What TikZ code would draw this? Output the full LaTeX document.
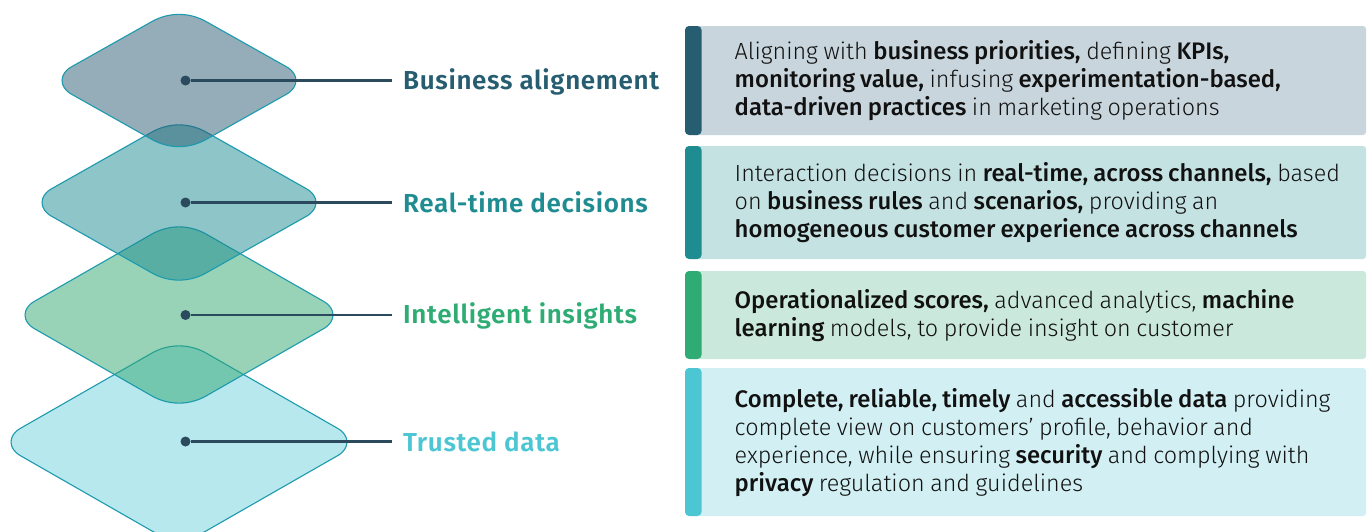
\documentclass[tikz,border=0pt]{standalone}
\usepackage{fontspec}
\setmainfont{Fira Sans}[UprightFont=* Light,BoldFont=* Medium,WordSpace=0.85,UprightFeatures={Scale=1.016},BoldFeatures={Scale=1.04}]
\newfontfamily\labelfont{Fira Sans}[UprightFont=* SemiBold,LetterSpace=2.5]
\definecolor{stk}{HTML}{1C9AAE}
\definecolor{cA}{HTML}{265D70}
\definecolor{cB}{HTML}{1F8C91}
\definecolor{cC}{HTML}{2FAC74}
\definecolor{cD}{HTML}{4CC6D3}
\definecolor{fA}{HTML}{2A5B73}
\definecolor{fB}{HTML}{1B8B91}
\definecolor{fC}{HTML}{31A771}
\definecolor{fD}{HTML}{4CC6D3}
\definecolor{bgA}{HTML}{C8D5DC}
\definecolor{bgB}{HTML}{C5E2E3}
\definecolor{bgC}{HTML}{CBE8DC}
\definecolor{bgD}{HTML}{D2F0F3}
\definecolor{lnk}{HTML}{2B4A5E}
\definecolor{txt}{HTML}{111111}
\newcommand{\lozenge}[5]{% cx cy W H style
  \path[#5] (#1-27,#2-#4+7)
    .. controls (#1-10,#2-#4-2.5) and (#1+10,#2-#4-2.5) .. (#1+27,#2-#4+7)
    -- (#1+#3-10,#2-14)
    .. controls (#1+#3+3.3,#2-7) and (#1+#3+3.3,#2+7) .. (#1+#3-10,#2+14)
    -- (#1+27,#2+#4-7)
    .. controls (#1+10,#2+#4+2.5) and (#1-10,#2+#4+2.5) .. (#1-27,#2+#4-7)
    -- (#1-#3+10,#2+14)
    .. controls (#1-#3-3.3,#2+7) and (#1-#3-3.3,#2-7) .. (#1-#3+10,#2-14)
    -- cycle;}
\tikzset{
  x=1pt,y=-1pt,
  lozA/.style={draw=stk,line width=1.1pt,fill=fA,fill opacity=.5},
  lozB/.style={draw=stk,line width=1.1pt,fill=fB,fill opacity=.5},
  lozC/.style={draw=stk,line width=1.1pt,fill=fC,fill opacity=.5},
  lozD/.style={draw=stk,line width=1.1pt,fill=fD,fill opacity=.4},
  dotn/.style={circle,fill=lnk,inner sep=0pt,minimum size=10pt},
  link/.style={draw=lnk,line width=2.8pt},
  lab/.style={anchor=base west,inner sep=0pt,font=\labelfont\fontsize{26}{28}\selectfont},
  desc/.style={anchor=west,inner sep=0pt,align=left,text=txt,font=\fontsize{23}{28}\selectfont},
  bg/.style={fill=#1,draw=none,rounded corners=3pt},
  bar/.style={fill=#1,draw=none,rounded corners=4pt},
}
\begin{document}
\begin{tikzpicture}
\useasboundingbox (0,0) rectangle (1370,531);
\begin{scope}
\clip (0,0) rectangle (1370,531);
\lozenge{179}{442}{168}{96}{lozD}
\lozenge{179}{315}{154}{88}{lozC}
\lozenge{179}{202.5}{137}{77.5}{lozB}
\lozenge{179}{80.5}{117}{66}{lozA}
\end{scope}
\node[dotn] (d1) at (185.5,80.5) {};
\node[dotn] (d2) at (185.5,202.5) {};
\node[dotn] (d3) at (185.5,315) {};
\node[dotn] (d4) at (185.5,441.5) {};
\coordinate (e1) at (392,80.5);
\coordinate (e2) at (392,202.5);
\coordinate (e3) at (392,315);
\coordinate (e4) at (392,441.5);
\draw[link] (d1) -- (e1);
\draw[link] (d2) -- (e2);
\draw[link] (d3) -- (e3);
\draw[link] (d4) -- (e4);
\node[lab,text=cA] (l1) at (403,89) {Business alignement};
\node[lab,text=cB] (l2) at (403,212.5) {Real-time decisions};
\node[lab,text=cC] (l3) at (403,323) {Intelligent insights};
\node[lab,text=cD] (l4) at (403,451) {Trusted data};
\path[bg=bgA] (690,26) rectangle (1366,135);
\path[bg=bgB] (690,146) rectangle (1366,259);
\path[bg=bgC] (690,271) rectangle (1366,359);
\path[bg=bgD] (690,368) rectangle (1366,516);
\path[bar=cA] (685,26) rectangle (701.5,135);
\path[bar=cB] (685,146) rectangle (701.5,259);
\path[bar=cC] (685,271) rectangle (701.5,359);
\path[bar=cD] (685,368) rectangle (701.5,516);
\node[desc] (t1) at (734.5,80.8) {Aligning with \textbf{business priorities,} defining \textbf{KPIs,}\\\textbf{monitoring value,} infusing \textbf{experimentation-based,}\\\textbf{data-driven practices} in marketing operations};
\node[desc] (t2) at (734.5,202.8) {Interaction decisions in \textbf{real-time, across channels,} based\\on \textbf{business rules} and \textbf{scenarios,} providing an\\\textbf{homogeneous customer experience across channels}};
\node[desc] (t3) at (734.5,315.8) {\textbf{Operationalized scores,} advanced analytics, \textbf{machine}\\\textbf{learning} models, to provide insight on customer};
\node[desc] (t4) at (734.5,442.3) {\textbf{Complete, reliable, timely} and \textbf{accessible data} providing\\complete view on customers' profile, behavior and\\experience, while ensuring \textbf{security} and complying with\\\textbf{privacy} regulation and guidelines};
\end{tikzpicture}
\end{document}
